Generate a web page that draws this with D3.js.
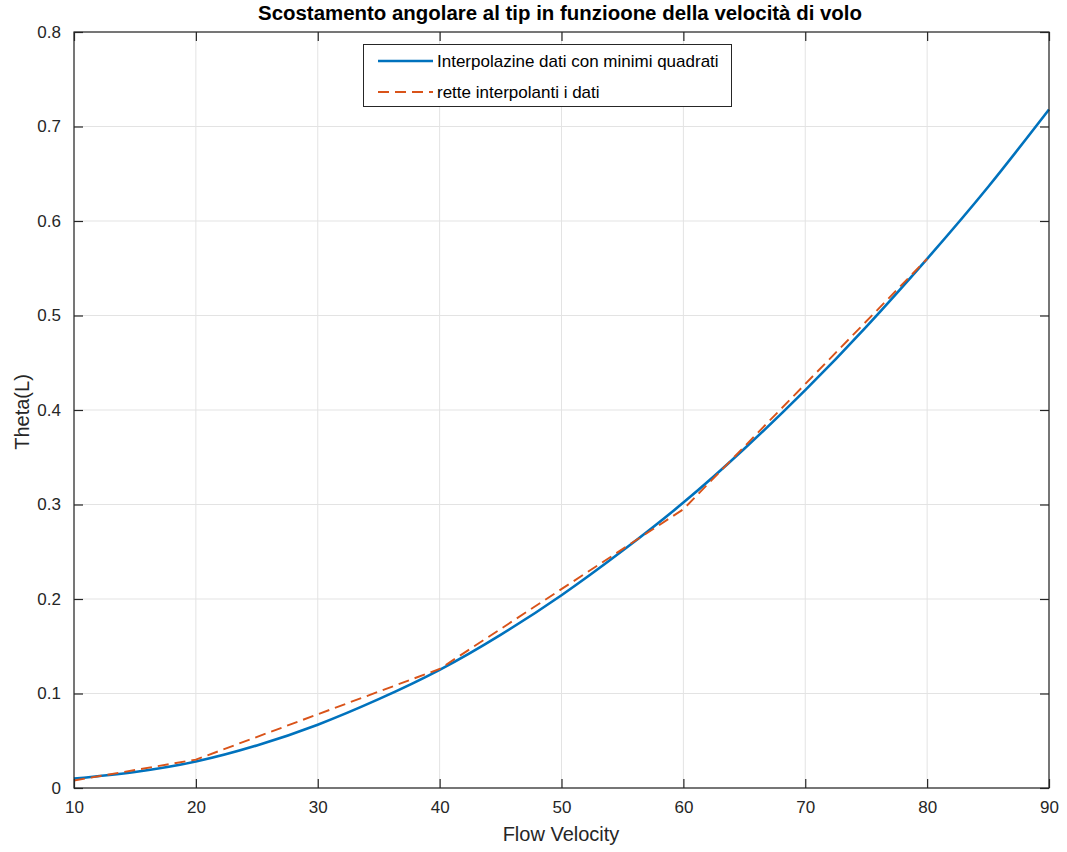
<!DOCTYPE html>
<html>
<head>
<meta charset="utf-8">
<script src="https://cdn.jsdelivr.net/npm/d3@7"></script>
<style>
  body { margin: 0; background: #fff; }
  svg { display: block; font-family: "Liberation Sans", Arial, Helvetica, sans-serif; }
</style>
</head>
<body>
<svg id="chart" width="1067" height="852"></svg>
<script>
// Least-squares fit curve, sampled every 5 m/s
const fitVelocity = [10, 15, 20, 25, 30, 35, 40, 45, 50, 55, 60, 65, 70, 75, 80, 85, 90];
const fitTheta    = [0.010, 0.017, 0.028, 0.045, 0.067, 0.094, 0.125, 0.162, 0.204, 0.251, 0.302, 0.359, 0.421, 0.488, 0.560, 0.636, 0.718];

// Measured points joined by straight segments
const dataVelocity = [10, 20, 40, 60, 80];
const dataTheta    = [0.008, 0.030, 0.126, 0.295, 0.560];

const xTicks = [10, 20, 30, 40, 50, 60, 70, 80, 90];
const yTicks = [0, 0.1, 0.2, 0.3, 0.4, 0.5, 0.6, 0.7, 0.8];

const seriesNames = ["Interpolazine dati con minimi quadrati", "rette interpolanti i dati"];
const titleText = "Scostamento angolare al tip in funzioone della velocità di volo";
const xLabel = "Flow Velocity";
const yLabel = "Theta(L)";

const svg = d3.select("#chart");
const m = { left: 74, right: 1049, top: 32, bottom: 788 };
const axisColor = "#262626";
const tickLen = 9;
const dashPattern = "11,6";

const x = d3.scaleLinear().domain([10, 90]).range([m.left, m.right]);
const y = d3.scaleLinear().domain([0, 0.8]).range([m.bottom, m.top]);

// grid
const grid = svg.append("g");
grid.selectAll("line.vx").data(xTicks).join("line")
  .attr("x1", d => x(d)).attr("x2", d => x(d))
  .attr("y1", m.top).attr("y2", m.bottom)
  .attr("stroke", "#e3e3e3").attr("stroke-width", 1);
grid.selectAll("line.hy").data(yTicks).join("line")
  .attr("x1", m.left).attr("x2", m.right)
  .attr("y1", d => y(d)).attr("y2", d => y(d))
  .attr("stroke", "#e3e3e3").attr("stroke-width", 1);

// curves
const fitLine = d3.line().x(d => x(d[0])).y(d => y(d[1])).curve(d3.curveNatural);
svg.append("path")
  .datum(fitVelocity.map((v, i) => [v, fitTheta[i]]))
  .attr("d", fitLine)
  .attr("fill", "none").attr("stroke", "#0072BD").attr("stroke-width", 2.6);

const dataLine = d3.line().x(d => x(d[0])).y(d => y(d[1]));
svg.append("path")
  .datum(dataVelocity.map((v, i) => [v, dataTheta[i]]))
  .attr("d", dataLine)
  .attr("fill", "none").attr("stroke", "#D95319").attr("stroke-width", 1.9)
  .attr("stroke-dasharray", dashPattern);

// axes (ticks point inward, box on)
const xAxisB = d3.axisBottom(x).tickValues(xTicks).tickSize(-tickLen).tickPadding(13).tickFormat(d3.format("d"));
const xAxisT = d3.axisTop(x).tickValues(xTicks).tickSize(-tickLen).tickFormat("");
const yAxisL = d3.axisLeft(y).tickValues(yTicks).tickSize(-tickLen).tickPadding(13).tickFormat(d => d === 0 ? "0" : d3.format(".1f")(d));
const yAxisR = d3.axisRight(y).tickValues(yTicks).tickSize(-tickLen).tickFormat("");

function style(g) {
  g.selectAll("path.domain").attr("stroke", axisColor).attr("stroke-width", 1.2);
  g.selectAll(".tick line").attr("stroke", axisColor).attr("stroke-width", 1.2);
  g.selectAll(".tick text").attr("fill", axisColor).attr("font-size", 17)
    .attr("font-family", "'Liberation Sans', Arial, sans-serif");
}
svg.append("g").attr("transform", `translate(0,${m.bottom})`).call(xAxisB).call(style)
  .selectAll(".tick text").attr("dy", "0.71em");
svg.append("g").attr("transform", `translate(0,${m.top})`).call(xAxisT).call(style);
svg.append("g").attr("transform", `translate(${m.left},0)`).call(yAxisL).call(style);
svg.append("g").attr("transform", `translate(${m.right},0)`).call(yAxisR).call(style);
svg.selectAll("path.domain").attr("d", null);
svg.append("rect")
  .attr("x", m.left).attr("y", m.top)
  .attr("width", m.right - m.left).attr("height", m.bottom - m.top)
  .attr("fill", "none").attr("stroke", axisColor).attr("stroke-width", 1.2);

// titles
svg.append("text").attr("x", 560).attr("y", 20)
  .attr("text-anchor", "middle").attr("font-size", 19.5).attr("font-weight", "bold")
  .attr("textLength", 604).attr("lengthAdjust", "spacingAndGlyphs")
  .attr("fill", "#000").text(titleText);
svg.append("text").attr("x", 561).attr("y", 841)
  .attr("text-anchor", "middle").attr("font-size", 20).attr("fill", axisColor).text(xLabel);
svg.append("text").attr("transform", `translate(29,${(m.top + m.bottom) / 2 + 2}) rotate(-90)`)
  .attr("text-anchor", "middle").attr("font-size", 20).attr("fill", axisColor).text(yLabel);

// legend
const lg = svg.append("g");
lg.append("rect").attr("x", 363.5).attr("y", 44.5).attr("width", 368).attr("height", 62)
  .attr("fill", "#fff").attr("stroke", axisColor).attr("stroke-width", 1);
const legendItems = [
  { name: seriesNames[0], color: "#0072BD", dash: null, w: 2.6 },
  { name: seriesNames[1], color: "#D95319", dash: dashPattern, w: 1.9 }
];
legendItems.forEach((it, i) => {
  const ly = 61 + i * 31;
  lg.append("line").attr("x1", 378).attr("x2", 433).attr("y1", ly).attr("y2", ly)
    .attr("stroke", it.color).attr("stroke-width", it.w)
    .attr("stroke-dasharray", it.dash);
  lg.append("text").attr("x", 437).attr("y", ly + 6).attr("font-size", 17)
    .attr("fill", "#000").text(it.name);
});
</script>
</body>
</html>
